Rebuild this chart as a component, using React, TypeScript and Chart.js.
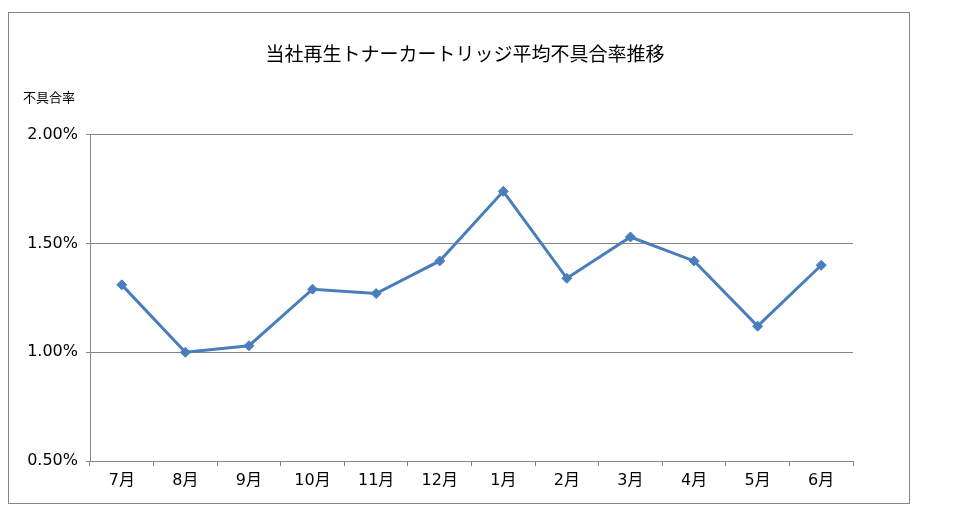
import { useEffect, useRef } from "react";
import { Chart, registerables } from "chart.js";
Chart.register(...registerables);

const months = ["7月", "8月", "9月", "10月", "11月", "12月", "1月", "2月", "3月", "4月", "5月", "6月"];
const defectRate = [1.31, 1.0, 1.03, 1.29, 1.27, 1.42, 1.74, 1.34, 1.53, 1.42, 1.12, 1.40];
const yTicks = [0.5, 1.0, 1.5, 2.0];

const chartTitle = "当社再生トナーカートリッジ平均不具合率推移";
const yLabel = "不具合率";

const FONT = "'Noto Sans CJK JP', 'Noto Sans', sans-serif";
const TICK_FONT = "'DejaVu Sans', 'Noto Sans CJK JP', sans-serif";
const GRID = "#868686";
const LINE = "#4a7ebb";

// draws the small axis caption above the y axis (horizontal, like Excel)
const yCaption = {
    id: "yCaption",
    afterDraw(chart: Chart) {
        const ctx = chart.ctx;
        ctx.save();
        ctx.font = `13px ${FONT}`;
        ctx.fillStyle = "#000";
        ctx.textAlign = "left";
        ctx.textBaseline = "middle";
        ctx.fillText(yLabel, 14, 84);
        ctx.restore();
    },
};

const RateChart = () => {
    const chartRef = useRef<HTMLCanvasElement | null>(null);
    const chartInstance = useRef<Chart | null>(null);

    useEffect(() => {
        if (!chartRef.current) return;
        const ctx = chartRef.current.getContext("2d");
        if (!ctx) return;

        if (chartInstance.current) chartInstance.current.destroy();

        chartInstance.current = new Chart(ctx, {
            type: "line",
            data: {
                labels: months,
                datasets: [
                    {
                        label: yLabel,
                        data: defectRate,
                        borderColor: LINE,
                        backgroundColor: LINE,
                        borderWidth: 3,
                        tension: 0,
                        pointStyle: "rectRot",
                        pointRadius: 5,
                        pointBorderWidth: 1,
                        pointBackgroundColor: LINE,
                        pointBorderColor: LINE,
                        yAxisID: "y",
                    },
                ],
            },
            options: {
                responsive: false,
                animation: false,
                layout: { padding: { left: 12, right: 0, top: 0, bottom: 0 } },
                plugins: {
                    legend: { display: false },
                    tooltip: { enabled: false },
                    title: {
                        display: true,
                        text: chartTitle,
                        color: "#000",
                        font: { family: FONT, size: 19, weight: "normal" },
                        padding: { top: 29, bottom: 70 },
                    },
                },
                scales: {
                    x: {
                        offset: true,
                        border: { color: GRID, width: 1 },
                        grid: {
                            offset: true,
                            drawOnChartArea: false,
                            drawTicks: true,
                            tickLength: 5,
                            color: GRID,
                        },
                        ticks: {
                            color: "#000",
                            font: { family: TICK_FONT, size: 16 },
                            padding: 5,
                            maxRotation: 0,
                        },
                        afterFit: (scale: any) => {
                            scale.height = 42;
                        },
                    },
                    y: {
                        min: 0.5,
                        max: 2.0,
                        border: { color: GRID, width: 1 },
                        grid: { color: GRID, tickLength: 4 },
                        afterBuildTicks: (scale: any) => {
                            scale.ticks = yTicks.map((v) => ({ value: v }));
                        },
                        ticks: {
                            color: "#000",
                            font: { family: TICK_FONT, size: 16 },
                            padding: 8,
                            callback: (v: any) => Number(v).toFixed(2) + "%",
                        },
                        afterFit: (scale: any) => {
                            scale.width = 69;
                        },
                    },
                    // empty right-hand box: leaves the blank margin right of the plot
                    spacer: {
                        type: "linear",
                        position: "right",
                        grid: { display: false },
                        border: { display: false },
                        ticks: { display: false },
                        afterFit: (scale: any) => {
                            scale.width = 56;
                        },
                    },
                },
            },
            plugins: [yCaption],
        });

        return () => {
            if (chartInstance.current) {
                chartInstance.current.destroy();
                chartInstance.current = null;
            }
        };
    }, []);

    return <canvas ref={chartRef} width={900} height={490}></canvas>;
};

export default function App() {
    return (
        <div style={{ paddingTop: 4 }}>
            <div style={{ width: 900, height: 490, border: `1px solid ${GRID}`, background: "#fff" }}>
                <RateChart />
            </div>
        </div>
    );
}
